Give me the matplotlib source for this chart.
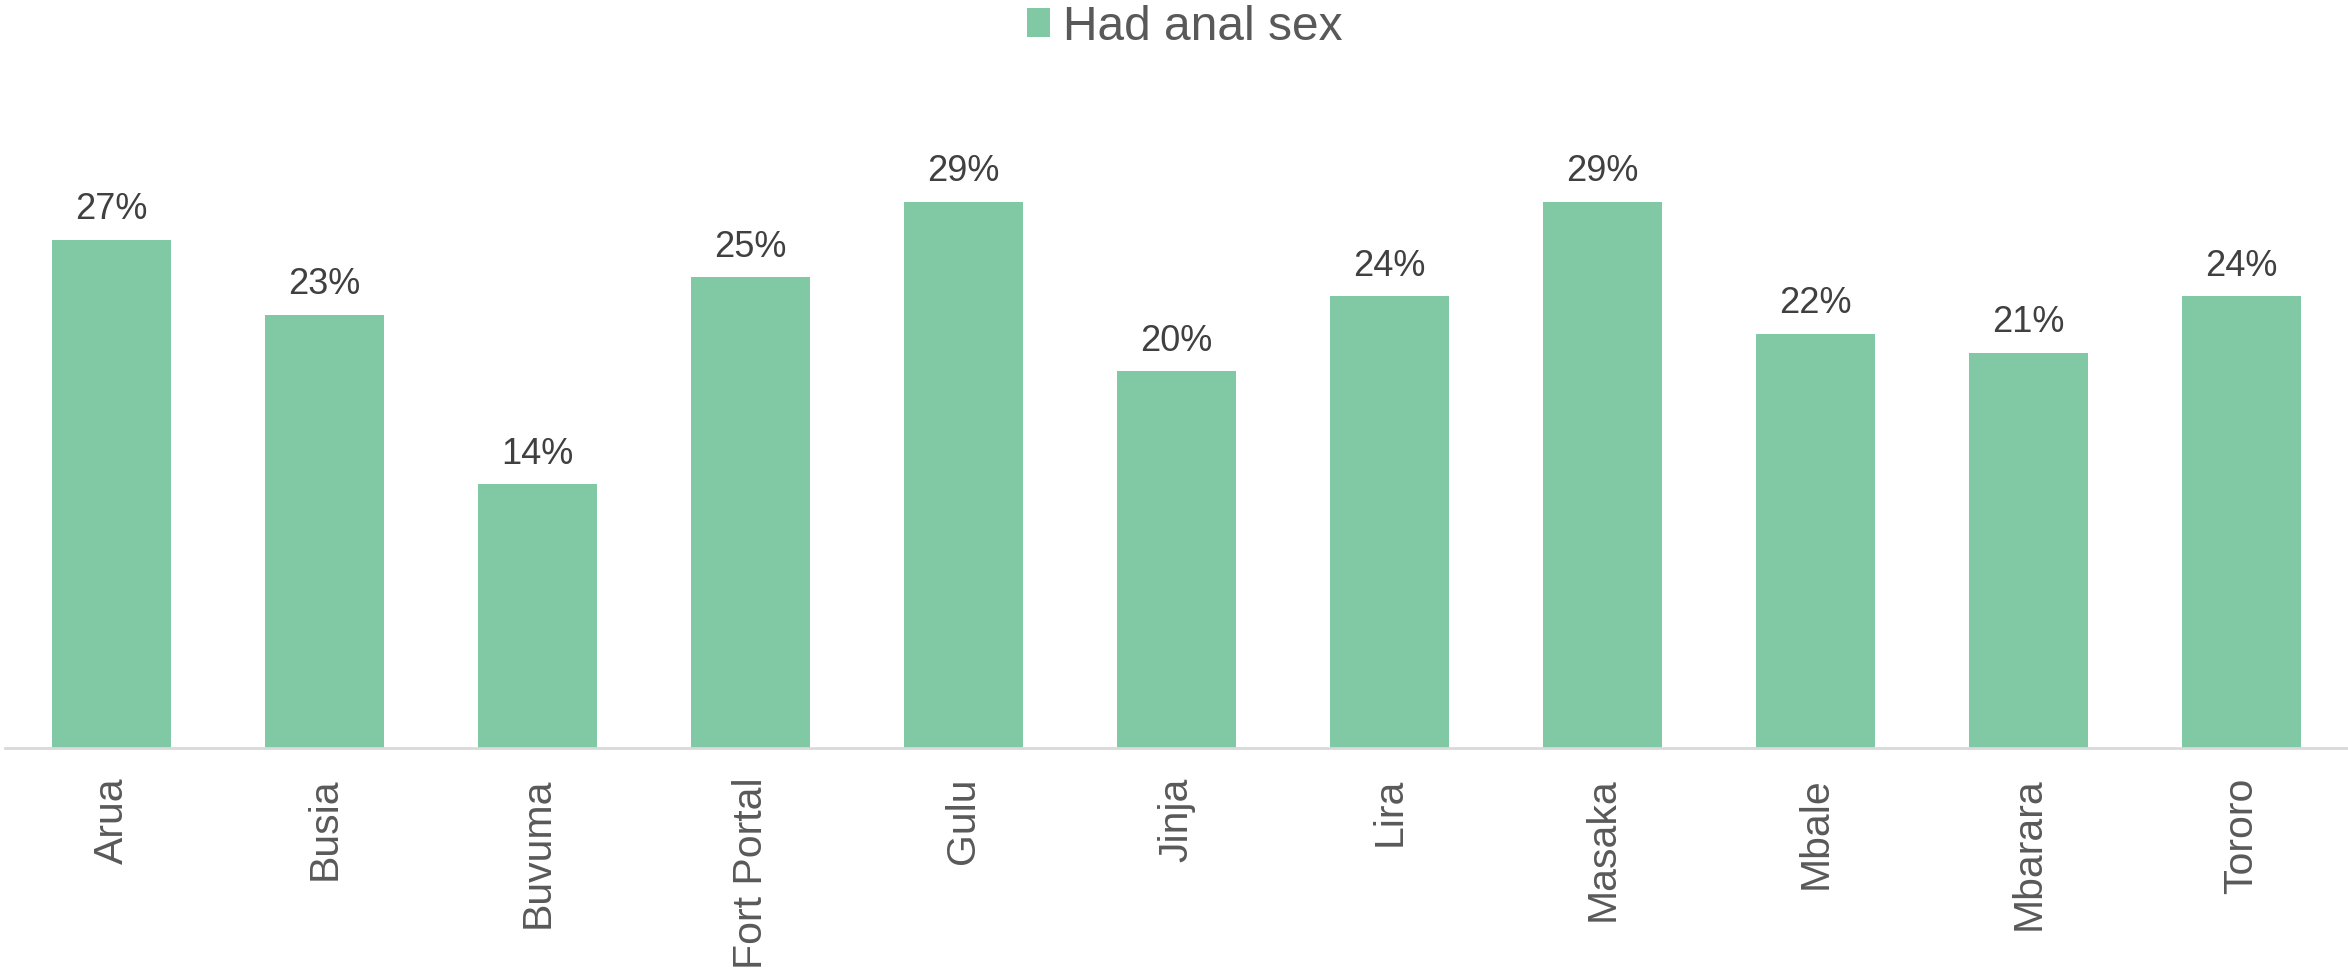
import matplotlib.pyplot as plt

plt.rcParams['font.family'] = ['Liberation Sans', 'DejaVu Sans']

districts = ['Arua', 'Busia', 'Buvuma', 'Fort Portal', 'Gulu', 'Jinja',
             'Lira', 'Masaka', 'Mbale', 'Mbarara', 'Tororo']
had_anal_sex = [0.27, 0.23, 0.14, 0.25, 0.29, 0.20, 0.24, 0.29, 0.22, 0.21, 0.24]
series_name = 'Had anal sex'

fig = plt.figure(figsize=(23.48, 9.72), dpi=100)
ax = fig.add_axes([5 / 2348, 1 - 748 / 972, 1 - 5 / 2348, (748 - 89) / 972])

x = range(len(districts))
bars = ax.bar(x, had_anal_sex, width=1 / 1.8, color='#80C9A4', label=series_name)

# data labels above bars
ax.bar_label(bars, labels=[f'{v:.0%}' for v in had_anal_sex], padding=9,
             fontsize=26, color='#404040')

ax.set_xlim(-0.5, len(districts) - 0.5)
ax.set_ylim(0, 0.35)
ax.set_xticks(list(x))
ax.set_xticklabels(districts, rotation=90, fontsize=29.5, color='#595959')
ax.tick_params(axis='x', length=0, pad=21)
ax.set_yticks([])

for side in ['top', 'right', 'left']:
    ax.spines[side].set_visible(False)
ax.spines['bottom'].set_color('#D9D9D9')
ax.spines['bottom'].set_linewidth(2)

fig.legend(loc='center', bbox_to_anchor=(1185 / 2348, 1 - 27 / 972), frameon=False,
           fontsize=34.5, labelcolor='#595959', handlelength=0.48, handleheight=0.54,
           handletextpad=0.26, borderpad=0, borderaxespad=0)

fig.savefig('out.png', dpi=100)
